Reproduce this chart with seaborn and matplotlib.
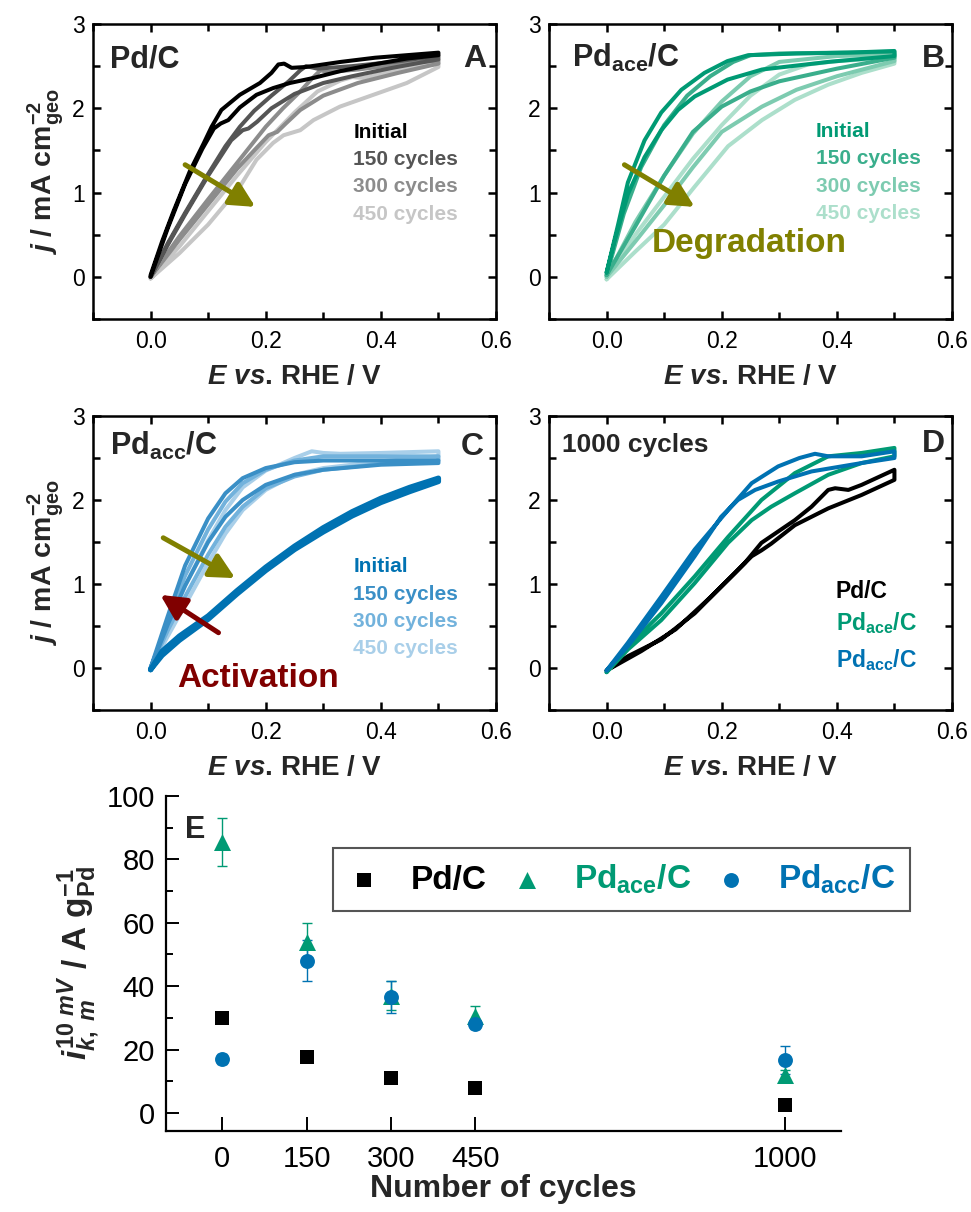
import matplotlib
matplotlib.use("Agg")
import matplotlib.pyplot as plt
from matplotlib.ticker import MultipleLocator
import seaborn as sns
import pandas as pd

# ---------------- data ----------------
# panel A  Pd/C
a_init_fE = [0.0, 0.02, 0.04, 0.068, 0.092, 0.106, 0.123, 0.155, 0.19, 0.21, 0.222, 0.232, 0.245, 0.27, 0.33, 0.39, 0.445, 0.5]
a_init_fj = [0.02, 0.42, 0.78, 1.25, 1.58, 1.78, 1.98, 2.16, 2.30, 2.42, 2.52, 2.53, 2.48, 2.49, 2.55, 2.60, 2.63, 2.66]
a_init_rE = [0.5, 0.445, 0.387, 0.329, 0.283, 0.242, 0.213, 0.184, 0.155, 0.135, 0.122, 0.11, 0.09, 0.06, 0.03, 0.0]
a_init_rj = [2.63, 2.59, 2.52, 2.44, 2.36, 2.30, 2.24, 2.16, 2.01, 1.86, 1.82, 1.76, 1.52, 1.10, 0.58, 0.0]

a_150_fE = [0.0, 0.03, 0.06, 0.10, 0.13, 0.155, 0.18, 0.21, 0.24, 0.26, 0.27, 0.29, 0.35, 0.42, 0.5]
a_150_fj = [0.0, 0.40, 0.76, 1.22, 1.55, 1.78, 1.97, 2.15, 2.32, 2.45, 2.50, 2.47, 2.50, 2.55, 2.62]
a_150_rE = [0.5, 0.42, 0.35, 0.30, 0.25, 0.21, 0.185, 0.17, 0.16, 0.14, 0.10, 0.06, 0.03, 0.0]
a_150_rj = [2.58, 2.48, 2.38, 2.30, 2.17, 2.00, 1.84, 1.76, 1.74, 1.62, 1.20, 0.74, 0.38, 0.0]

a_300_fE = [0.0, 0.05, 0.10, 0.15, 0.20, 0.23, 0.26, 0.28, 0.295, 0.31, 0.36, 0.43, 0.5]
a_300_fj = [0.0, 0.48, 0.92, 1.35, 1.78, 2.00, 2.20, 2.35, 2.45, 2.43, 2.46, 2.52, 2.57]
a_300_rE = [0.5, 0.43, 0.36, 0.30, 0.26, 0.235, 0.22, 0.205, 0.18, 0.15, 0.10, 0.05, 0.0]
a_300_rj = [2.53, 2.42, 2.30, 2.15, 1.98, 1.82, 1.72, 1.68, 1.50, 1.28, 0.86, 0.44, 0.0]

a_450_fE = [0.0, 0.05, 0.10, 0.15, 0.20, 0.25, 0.29, 0.33, 0.35, 0.37, 0.43, 0.5]
a_450_fj = [-0.02, 0.36, 0.78, 1.20, 1.60, 1.95, 2.20, 2.33, 2.37, 2.36, 2.46, 2.53]
a_450_rE = [0.5, 0.445, 0.387, 0.329, 0.283, 0.26, 0.231, 0.213, 0.184, 0.155, 0.10, 0.05, 0.0]
a_450_rj = [2.49, 2.30, 2.16, 2.02, 1.86, 1.74, 1.68, 1.59, 1.39, 1.07, 0.62, 0.28, -0.02]

# panel B  Pd_ace/C
b_init_fE = [0.0, 0.02, 0.037, 0.066, 0.095, 0.13, 0.17, 0.21, 0.246, 0.33, 0.42, 0.5]
b_init_fj = [0.05, 0.62, 1.12, 1.62, 1.95, 2.22, 2.42, 2.56, 2.63, 2.65, 2.66, 2.68]
b_init_rE = [0.5, 0.385, 0.27, 0.21, 0.153, 0.124, 0.095, 0.066, 0.037, 0.015, 0.0]
b_init_rj = [2.62, 2.55, 2.46, 2.34, 2.14, 1.98, 1.74, 1.42, 0.98, 0.45, 0.05]

b_150_fE = [0.0, 0.03, 0.06, 0.10, 0.14, 0.18, 0.22, 0.25, 0.30, 0.50]
b_150_fj = [0.02, 0.75, 1.30, 1.80, 2.15, 2.38, 2.55, 2.63, 2.65, 2.67]
b_150_rE = [0.5, 0.40, 0.30, 0.25, 0.20, 0.15, 0.10, 0.05, 0.0]
b_150_rj = [2.60, 2.47, 2.32, 2.20, 2.02, 1.72, 1.20, 0.60, 0.02]

b_300_fE = [0.0, 0.05, 0.10, 0.15, 0.20, 0.25, 0.30, 0.40, 0.50]
b_300_fj = [0.0, 0.65, 1.20, 1.70, 2.08, 2.38, 2.55, 2.62, 2.64]
b_300_rE = [0.5, 0.40, 0.33, 0.27, 0.20, 0.15, 0.10, 0.05, 0.0]
b_300_rj = [2.56, 2.38, 2.22, 2.02, 1.72, 1.30, 0.85, 0.42, 0.0]

b_450_fE = [0.0, 0.05, 0.10, 0.15, 0.20, 0.25, 0.30, 0.35, 0.40, 0.50]
b_450_fj = [-0.03, 0.50, 0.95, 1.40, 1.80, 2.15, 2.40, 2.52, 2.56, 2.60]
b_450_rE = [0.5, 0.443, 0.385, 0.327, 0.27, 0.211, 0.153, 0.10, 0.05, 0.0]
b_450_rj = [2.53, 2.42, 2.28, 2.10, 1.86, 1.55, 1.07, 0.62, 0.30, -0.03]

# panel C  Pd_acc/C
c_init_fE = [0.0, 0.02, 0.05, 0.10, 0.15, 0.20, 0.25, 0.30, 0.35, 0.40, 0.45, 0.50]
c_init_fj = [-0.02, 0.20, 0.38, 0.62, 0.92, 1.20, 1.45, 1.67, 1.86, 2.02, 2.15, 2.26]
c_init_rE = [0.50, 0.45, 0.40, 0.35, 0.30, 0.25, 0.20, 0.15, 0.10, 0.05, 0.02, 0.0]
c_init_rj = [2.22, 2.10, 1.97, 1.81, 1.62, 1.41, 1.16, 0.88, 0.58, 0.33, 0.15, -0.02]

c_150_fE = [0.0, 0.03, 0.06, 0.10, 0.13, 0.16, 0.20, 0.25, 0.30, 0.40, 0.50]
c_150_fj = [0.0, 0.62, 1.22, 1.78, 2.08, 2.26, 2.38, 2.45, 2.47, 2.47, 2.47]
c_150_rE = [0.5, 0.40, 0.30, 0.25, 0.20, 0.16, 0.13, 0.10, 0.06, 0.03, 0.0]
c_150_rj = [2.44, 2.42, 2.36, 2.30, 2.18, 2.00, 1.80, 1.50, 0.98, 0.52, 0.0]

c_300_fE = [0.0, 0.03, 0.06, 0.10, 0.13, 0.16, 0.20, 0.25, 0.30, 0.40, 0.50]
c_300_fj = [0.0, 0.55, 1.10, 1.65, 1.98, 2.20, 2.36, 2.47, 2.52, 2.52, 2.52]
c_300_rE = [0.5, 0.40, 0.30, 0.25, 0.20, 0.16, 0.13, 0.10, 0.06, 0.03, 0.0]
c_300_rj = [2.47, 2.43, 2.36, 2.28, 2.14, 1.92, 1.68, 1.35, 0.85, 0.45, 0.0]

c_450_fE = [0.0, 0.03, 0.06, 0.10, 0.13, 0.16, 0.20, 0.25, 0.28, 0.30, 0.33, 0.40, 0.50]
c_450_fj = [0.0, 0.48, 0.98, 1.52, 1.88, 2.15, 2.35, 2.50, 2.58, 2.56, 2.55, 2.56, 2.58]
c_450_rE = [0.5, 0.40, 0.30, 0.25, 0.20, 0.16, 0.13, 0.10, 0.06, 0.03, 0.0]
c_450_rj = [2.52, 2.46, 2.38, 2.30, 2.12, 1.88, 1.60, 1.25, 0.75, 0.38, 0.0]

# panel D  after 1000 cycles
d_pd_fE = [0.0, 0.037, 0.095, 0.153, 0.211, 0.24, 0.269, 0.327, 0.356, 0.385, 0.397, 0.42, 0.443, 0.5]
d_pd_fj = [-0.03, 0.14, 0.34, 0.65, 1.05, 1.25, 1.49, 1.76, 1.92, 2.12, 2.14, 2.12, 2.18, 2.36]
d_pd_rE = [0.5, 0.443, 0.385, 0.327, 0.286, 0.269, 0.252, 0.223, 0.18, 0.12, 0.06, 0.0]
d_pd_rj = [2.24, 2.06, 1.90, 1.70, 1.48, 1.40, 1.33, 1.13, 0.84, 0.46, 0.20, -0.03]

d_ace_fE = [0.0, 0.037, 0.095, 0.153, 0.211, 0.269, 0.327, 0.385, 0.443, 0.5]
d_ace_fj = [-0.05, 0.26, 0.65, 1.09, 1.56, 2.00, 2.32, 2.52, 2.56, 2.62]
d_ace_rE = [0.5, 0.443, 0.385, 0.327, 0.286, 0.252, 0.211, 0.153, 0.095, 0.037, 0.0]
d_ace_rj = [2.52, 2.44, 2.30, 2.08, 1.92, 1.76, 1.49, 1.01, 0.57, 0.22, -0.05]

d_acc_fE = [0.0, 0.037, 0.095, 0.153, 0.211, 0.252, 0.298, 0.335, 0.362, 0.385, 0.443, 0.5]
d_acc_fj = [-0.03, 0.30, 0.85, 1.41, 1.88, 2.20, 2.40, 2.50, 2.55, 2.52, 2.52, 2.58]
d_acc_rE = [0.5, 0.443, 0.356, 0.298, 0.258, 0.228, 0.199, 0.153, 0.095, 0.037, 0.0]
d_acc_rj = [2.50, 2.44, 2.34, 2.22, 2.12, 2.00, 1.80, 1.33, 0.77, 0.26, -0.03]

# panel E  mass activity at 10 mV
cycles = [0, 150, 300, 450, 1000]
act_pd = [30.0, 17.5, 11.0, 8.0, 2.5]
act_ace = [85.5, 54.0, 37.0, 30.5, 12.0]
err_ace = [7.5, 6.0, 4.5, 3.3, 1.5]
act_acc = [17.0, 48.0, 36.5, 28.0, 16.7]
err_acc = [1.5, 6.5, 5.0, 1.5, 4.3]

cycle_labels = ['Initial', '150 cycles', '300 cycles', '450 cycles']
grey_cols = ['#000000', '#555555', '#8c8c8c', '#c6c6c6']
green_cols = ['#009a74', '#3aae8c', '#7dcbb0', '#acdfcb']
blue_cols = ['#0072b2', '#3a8fc6', '#72b2dc', '#a9cfe9']
olive = '#808000'
darkred = '#800000'

# ---------------- style ----------------
sns.set_theme(style='ticks')
plt.rcParams['font.family'] = ['Liberation Sans', 'DejaVu Sans']
plt.rcParams['mathtext.fontset'] = 'custom'
plt.rcParams['mathtext.rm'] = 'Liberation Sans:bold'
plt.rcParams['mathtext.bf'] = 'Liberation Sans:bold'
plt.rcParams['mathtext.it'] = 'Liberation Sans:italic:bold'
plt.rcParams['mathtext.default'] = 'rm'

W, H = 971, 1212
fig = plt.figure(figsize=(W / 100, H / 100), dpi=100)


def px_axes(left, top, right, bottom):
    return fig.add_axes([left / W, 1 - bottom / H, (right - left) / W, (bottom - top) / H])


def loop(fE, fj, rE, rj):
    return pd.DataFrame({'E': fE + rE, 'j': fj + rj})


def cv_axes(ax, ylabel=True):
    ax.set_xlim(-0.1, 0.6)
    ax.set_ylim(-0.5, 3)
    ax.xaxis.set_major_locator(MultipleLocator(0.2))
    ax.xaxis.set_minor_locator(MultipleLocator(0.1))
    ax.yaxis.set_major_locator(MultipleLocator(1))
    ax.yaxis.set_minor_locator(MultipleLocator(0.5))
    ax.xaxis.set_major_formatter(plt.FormatStrFormatter('%.1f'))
    ax.tick_params(which='both', direction='in', top=True, right=True, width=1.8,
                   colors='black')
    ax.tick_params(which='major', length=6, labelsize=16.5)
    ax.tick_params(which='minor', length=5)
    ax.tick_params(axis='x', pad=8)
    ax.tick_params(axis='y', pad=6)
    for s in ax.spines.values():
        s.set_linewidth(1.8)
        s.set_color('black')
    ax.set_xlabel(r'$\mathit{E\ vs}$. RHE / V', fontsize=20, fontweight='bold', labelpad=8)
    if ylabel:
        ax.set_ylabel(r'$\mathit{j}$ / mA cm$^{-2}_{\mathrm{geo}}$', fontsize=20.5,
                      fontweight='bold', labelpad=4)
    else:
        ax.set_ylabel('')


def draw_loops(ax, curves, cols, widths):
    for (fE, fj, rE, rj), c, w in zip(curves, cols, widths):
        sns.lineplot(data=loop(fE, fj, rE, rj), x='E', y='j', sort=False, estimator=None,
                     color=c, lw=w, ax=ax)


def labels_block(ax, x, y0, step, texts, cols, size=15):
    for i, (t, c) in enumerate(zip(texts, cols)):
        ax.text(x, y0 - i * step, t, color=c, fontsize=size, fontweight='bold',
                ha='left', va='baseline')


def arrow(ax, start, end, color):
    ax.annotate('', xy=end, xytext=start,
                arrowprops=dict(arrowstyle='-|>,head_length=0.75,head_width=0.38', color=color,
                                lw=3.6, mutation_scale=20, shrinkA=0, shrinkB=0))


# ---------------- panel A ----------------
axA = px_axes(93, 24, 496, 319)
draw_loops(axA, [(a_450_fE, a_450_fj, a_450_rE, a_450_rj),
                 (a_300_fE, a_300_fj, a_300_rE, a_300_rj),
                 (a_150_fE, a_150_fj, a_150_rE, a_150_rj),
                 (a_init_fE, a_init_fj, a_init_rE, a_init_rj)], grey_cols[::-1], [2.9] * 4)
cv_axes(axA)
axA.text(0.042, 0.854, 'Pd/C', transform=axA.transAxes, fontsize=22, fontweight='bold', va='baseline')
axA.text(0.975, 0.854, 'A', transform=axA.transAxes, fontsize=23, fontweight='bold', va='baseline', ha='right')
labels_block(axA, 0.352, 1.65, 0.324, cycle_labels, grey_cols)
arrow(axA, (0.06, 1.33), (0.182, 0.83), olive)

# ---------------- panel B ----------------
axB = px_axes(549, 24, 952, 319)
draw_loops(axB, [(b_450_fE, b_450_fj, b_450_rE, b_450_rj),
                 (b_300_fE, b_300_fj, b_300_rE, b_300_rj),
                 (b_150_fE, b_150_fj, b_150_rE, b_150_rj),
                 (b_init_fE, b_init_fj, b_init_rE, b_init_rj)], green_cols[::-1], [2.9] * 4)
cv_axes(axB, ylabel=False)
axB.text(0.057, 0.854, r'Pd$_{\mathrm{ace}}$/C', transform=axB.transAxes, fontsize=22,
         fontweight='bold', va='baseline')
axB.text(0.983, 0.854, 'B', transform=axB.transAxes, fontsize=23, fontweight='bold', va='baseline', ha='right')
labels_block(axB, 0.363, 1.66, 0.324, cycle_labels, green_cols)
arrow(axB, (0.031, 1.33), (0.153, 0.83), olive)
axB.text(0.078, 0.297, 'Degradation', color=olive, fontsize=24, fontweight='bold', va='baseline')

# ---------------- panel C ----------------
axC = px_axes(93, 416, 496, 710)
draw_loops(axC, [(c_450_fE, c_450_fj, c_450_rE, c_450_rj),
                 (c_300_fE, c_300_fj, c_300_rE, c_300_rj),
                 (c_150_fE, c_150_fj, c_150_rE, c_150_rj),
                 (c_init_fE, c_init_fj, c_init_rE, c_init_rj)], blue_cols[::-1],
           [2.9, 2.9, 2.9, 3.8])
cv_axes(axC)
axC.text(0.042, 0.867, r'Pd$_{\mathrm{acc}}$/C', transform=axC.transAxes, fontsize=22,
         fontweight='bold', va='baseline')
axC.text(0.97, 0.867, 'C', transform=axC.transAxes, fontsize=23, fontweight='bold', va='baseline', ha='right')
labels_block(axC, 0.352, 1.137, 0.325, cycle_labels, blue_cols)
arrow(axC, (0.022, 1.55), (0.147, 1.07), olive)
arrow(axC, (0.118, 0.42), (0.017, 0.87), darkred)
axC.text(0.046, -0.222, 'Activation', color=darkred, fontsize=24, fontweight='bold', va='baseline')

# ---------------- panel D ----------------
axD = px_axes(549, 416, 952, 710)
draw_loops(axD, [(d_pd_fE, d_pd_fj, d_pd_rE, d_pd_rj),
                 (d_ace_fE, d_ace_fj, d_ace_rE, d_ace_rj),
                 (d_acc_fE, d_acc_fj, d_acc_rE, d_acc_rj)],
           ['#000000', green_cols[0], blue_cols[0]], [2.9] * 3)
cv_axes(axD, ylabel=False)
axD.text(0.032, 0.878, '1000 cycles', transform=axD.transAxes, fontsize=19, fontweight='bold', va='baseline')
axD.text(0.983, 0.878, 'D', transform=axD.transAxes, fontsize=23, fontweight='bold', va='baseline', ha='right')
d_names = ['Pd/C', r'Pd$_{\mathrm{ace}}$/C', r'Pd$_{\mathrm{acc}}$/C']
d_cols = ['#000000', green_cols[0], blue_cols[0]]
for t, yb, c in zip(d_names, [0.836, 0.455, 0.015], d_cols):
    axD.text(0.398, yb, t, color=c, fontsize=16.5, fontweight='bold', va='baseline')

# ---------------- panel E ----------------
axE = px_axes(166, 796, 841, 1131)
axE.errorbar(cycles, act_ace, yerr=err_ace, fmt='none', ecolor=green_cols[0], elinewidth=1,
             capsize=3.5, capthick=1, zorder=1)
axE.errorbar(cycles, act_acc, yerr=err_acc, fmt='none', ecolor=blue_cols[0], elinewidth=1,
             capsize=3.5, capthick=1, zorder=1)
sns.scatterplot(x=cycles, y=act_pd, marker='s', s=90, color='black', linewidth=0,
                label='Pd/C', ax=axE, zorder=3)
sns.scatterplot(x=cycles, y=act_ace, marker='^', s=150, color=green_cols[0], linewidth=0,
                label=r'Pd$_{\mathrm{ace}}$/C', ax=axE, zorder=3)
sns.scatterplot(x=cycles, y=act_acc, marker='o', s=115, color=blue_cols[0], linewidth=0,
                label=r'Pd$_{\mathrm{acc}}$/C', ax=axE, zorder=3)
axE.set_xlim(-100, 1100)
axE.set_ylim(-5.7, 100)
axE.set_xticks(cycles)
axE.yaxis.set_major_locator(MultipleLocator(20))
axE.yaxis.set_minor_locator(MultipleLocator(10))
sns.despine(ax=axE)
for s in ['left', 'bottom']:
    axE.spines[s].set_linewidth(1.6)
    axE.spines[s].set_color('black')
axE.tick_params(which='both', direction='in', width=1.4, colors='black')
axE.tick_params(which='major', labelsize=21)
axE.tick_params(axis='x', which='major', length=10, pad=10)
axE.tick_params(axis='y', which='major', length=9, pad=8)
axE.tick_params(axis='y', which='minor', length=5)
axE.set_xlabel('Number of cycles', fontsize=23, fontweight='bold', labelpad=1)
axE.set_ylabel(r'$\mathit{i}_{\mathit{k,\ m}}^{\mathit{10\ mV}}$ / A g$_{\mathrm{Pd}}^{-1}$',
               fontsize=24, fontweight='bold', labelpad=3)
axE.text(0.028, 0.875, 'E', transform=axE.transAxes, fontsize=22, fontweight='bold', va='baseline')
leg = axE.legend(loc='upper left', bbox_to_anchor=(0.247, 0.845), borderaxespad=0, ncol=3,
                 prop={'weight': 'bold', 'size': 24}, frameon=True, fancybox=False,
                 edgecolor='#555555', borderpad=0.45, handlelength=1.0, handletextpad=0.9,
                 columnspacing=0.7, framealpha=1)
leg.get_frame().set_linewidth(1.5)
for t, c in zip(leg.get_texts(), ['black', green_cols[0], blue_cols[0]]):
    t.set_color(c)

fig.savefig('out.png', dpi=100)
